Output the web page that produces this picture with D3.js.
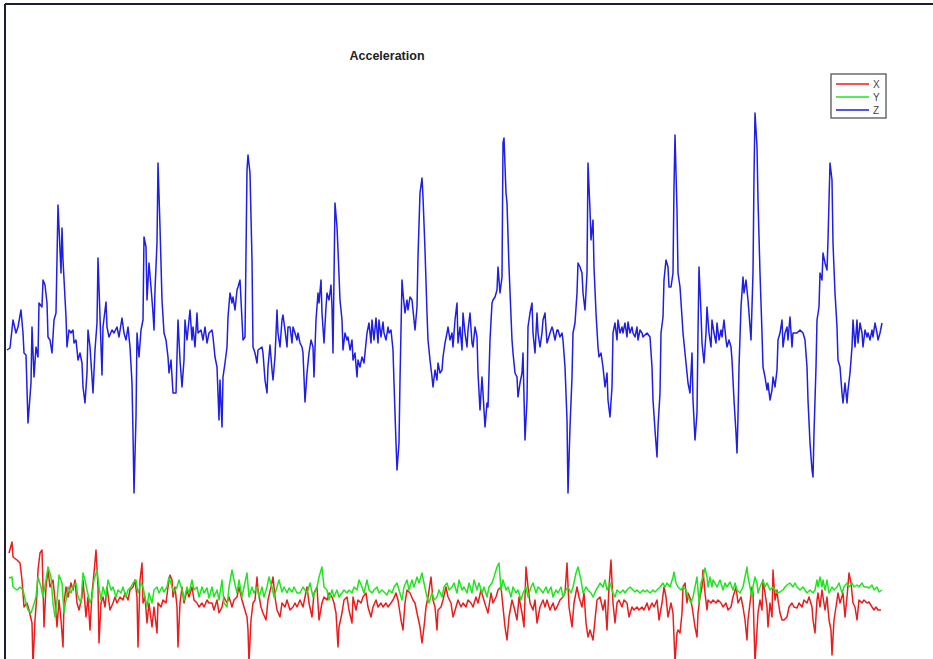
<!DOCTYPE html>
<html>
<head>
<meta charset="utf-8">
<script src="https://cdn.jsdelivr.net/npm/d3@7"></script>
<style>
  html, body { margin: 0; padding: 0; background: #fff; }
  svg { display: block; }
</style>
</head>
<body>
<svg id="chart" width="933" height="659"></svg>
<script>
// ---- data: [sample index, raw acceleration reading] ----
const seriesNames = ["X", "Y", "Z"];
const seriesColors = ["#ec1c1c", "#1ee61e", "#1e1ee6"];
const chartTitle = "Acceleration";

const accelZ = [[0,250],[3,252],[6,280],[9,267],[11,273],[14,290],[16,267],[17,247],[19,245],[21,177],[24,217],[25,273],[27,223],[29,253],[31,243],[32,297],[35,293],[36,320],[38,315],[40,297],[41,263],[43,260],[45,247],[47,280],[49,287],[51,395],[53,350],[54,327],[55,372],[56,340],[59,283],[60,253],[62,270],[64,267],[66,270],[67,257],[69,260],[71,240],[73,247],[75,237],[76,213],[78,197],[80,227],[81,270],[83,253],[85,223],[86,207],[88,250],[90,277],[91,342],[93,283],[95,225],[96,273],[99,298],[100,273],[102,263],[105,270],[107,267],[110,273],[112,263],[115,282],[117,267],[119,260],[121,273],[123,253],[125,217],[126,167],[127,107],[129,183],[130,267],[132,243],[134,270],[136,280],[137,363],[139,353],[140,300],[142,337],[144,313],[146,287],[147,270],[148,310],[150,357],[151,437],[153,373],[155,300],[157,267],[159,260],[161,243],[162,227],[164,240],[166,207],[169,207],[171,280],[173,240],[175,213],[177,240],[178,280],[180,260],[183,290],[185,260],[186,273],[188,253],[190,287],[191,267],[194,270],[196,260],[198,273],[200,257],[202,267],[205,270],[206,263],[208,243],[210,233],[212,180],[213,220],[215,173],[216,223],[218,237],[220,253],[221,283],[223,307],[225,297],[226,303],[228,290],[230,310],[231,313],[233,320],[235,280],[236,260],[238,263],[240,430],[241,445],[243,427],[245,340],[246,253],[248,247],[250,237],[251,250],[255,253],[256,247],[258,220],[260,207],[261,233],[263,255],[265,230],[266,220],[268,243],[270,290],[271,267],[273,253],[275,280],[276,285],[278,270],[280,253],[281,273],[283,273],[285,257],[286,273],[288,267],[290,260],[291,267],[293,257],[295,253],[296,247],[298,198],[300,227],[302,247],[304,260],[306,253],[307,223],[309,280],[311,307],[312,297],[314,320],[315,287],[317,257],[319,293],[320,307],[322,300],[324,315],[325,293],[326,247],[328,397],[330,373],[331,350],[333,300],[335,280],[336,250],[338,267],[340,260],[341,263],[343,250],[345,260],[346,240],[348,247],[350,223],[351,240],[353,233],[355,243],[357,237],[359,257],[360,267],[362,277],[364,257],[365,280],[367,260],[369,282],[371,257],[372,280],[374,263],[376,278],[377,267],[379,260],[381,273],[382,267],[384,270],[386,250],[387,217],[389,157],[390,130],[392,157],[393,220],[395,320],[396,307],[398,287],[400,300],[401,290],[403,303],[405,300],[406,290],[408,270],[410,293],[411,343],[413,407],[415,422],[416,403],[418,350],[420,287],[421,260],[423,240],[425,223],[426,213],[428,230],[430,220],[431,237],[433,227],[435,230],[436,243],[438,257],[440,267],[441,273],[443,260],[445,267],[446,253],[448,280],[450,297],[451,257],[453,273],[455,250],[456,287],[458,267],[460,253],[461,270],[463,287],[465,257],[466,253],[468,273],[470,263],[471,227],[473,190],[475,223],[476,207],[478,173],[480,197],[481,193],[483,260],[485,297],[486,300],[488,303],[490,310],[491,333],[493,307],[495,323],[496,457],[497,462],[499,407],[500,397],[502,333],[505,260],[506,247],[508,227],[510,223],[511,203],[513,217],[515,227],[516,247],[518,160],[520,200],[521,273],[523,287],[525,297],[526,267],[528,247],[530,287],[531,267],[533,253],[535,267],[536,280],[538,287],[540,257],[541,260],[543,267],[545,273],[546,270],[548,260],[550,270],[551,270],[553,263],[555,267],[556,260],[558,233],[560,180],[561,107],[563,173],[565,223],[566,267],[568,277],[570,307],[571,337],[573,333],[575,327],[576,307],[578,290],[580,327],[581,437],[583,390],[584,360],[586,380],[587,333],[589,287],[591,253],[592,243],[594,247],[596,233],[598,213],[600,227],[601,200],[603,183],[605,213],[606,267],[608,277],[610,260],[611,280],[613,267],[615,273],[616,267],[618,277],[620,263],[621,278],[623,267],[625,273],[626,267],[628,263],[630,273],[631,260],[633,270],[635,267],[636,263],[640,267],[643,263],[645,233],[646,200],[648,170],[650,143],[651,173],[653,207],[654,267],[656,283],[657,320],[659,340],[661,333],[662,313],[664,313],[666,327],[667,413],[668,465],[670,390],[671,327],[673,313],[675,283],[676,267],[678,247],[680,227],[681,217],[683,207],[685,247],[686,200],[688,160],[690,187],[691,267],[692,333],[694,287],[695,257],[697,237],[699,267],[700,293],[702,267],[704,253],[705,280],[707,267],[709,257],[710,277],[712,260],[714,270],[715,263],[717,280],[719,260],[720,253],[722,260],[724,253],[725,240],[727,200],[729,167],[730,147],[731,183],[732,233],[734,293],[736,323],[737,307],[739,320],[741,300],[742,287],[744,260],[746,327],[747,423],[748,487],[750,453],[751,400],[753,327],[755,267],[756,233],[758,223],[760,210],[761,217],[763,200],[765,210],[766,223],[768,213],[770,230],[771,260],[773,267],[775,280],[776,253],[778,267],[780,273],[781,260],[783,283],[785,253],[786,267],[790,267],[793,270],[796,267],[798,260],[800,233],[801,200],[803,157],[805,130],[806,123],[807,167],[809,233],[810,280],[812,293],[813,327],[815,320],[816,347],[818,337],[820,330],[821,360],[823,437],[825,420],[826,357],[828,307],[830,273],[831,240],[833,233],[835,207],[836,197],[838,217],[840,197],[841,210],[843,227],[845,253],[846,280],[848,253],[850,280],[851,257],[853,277],[855,267],[856,253],[858,270],[860,263],[861,267],[863,260],[865,270],[866,263],[868,277],[870,267],[871,260],[873,267],[875,277]];

const accelX = [[2,47],[5,58],[6,43],[10,40],[13,37],[15,20],[17,-7],[20,-3],[22,-10],[25,-23],[26,-65],[28,-20],[30,7],[31,30],[33,47],[35,50],[36,13],[37,-27],[39,13],[41,30],[43,13],[46,20],[48,0],[50,-27],[52,0],[54,-20],[56,-47],[57,-3],[59,13],[61,3],[64,17],[66,10],[68,20],[70,-3],[72,-10],[75,3],[76,20],[79,-17],[81,3],[83,-30],[85,7],[87,27],[89,50],[91,13],[92,-43],[94,-3],[96,3],[98,-7],[100,13],[103,-10],[106,-3],[108,3],[110,-3],[113,3],[116,0],[118,7],[121,0],[123,10],[126,13],[128,20],[130,3],[131,-47],[133,20],[135,37],[136,-3],[138,3],[140,-23],[142,-3],[145,-27],[147,-7],[150,-33],[151,-3],[154,-7],[156,0],[159,-3],[161,13],[163,25],[165,20],[166,3],[168,13],[170,-7],[171,-47],[173,-3],[175,13],[177,-3],[180,10],[182,3],[185,13],[187,0],[190,-3],[192,-7],[195,-3],[197,-7],[200,0],[202,-3],[205,-3],[207,-10],[210,0],[212,-13],[215,-7],[217,3],[220,-3],[222,3],[225,-7],[227,0],[230,3],[232,13],[235,0],[237,-7],[240,-17],[241,-30],[242,-62],[244,-20],[246,-3],[248,0],[250,23],[251,10],[254,-7],[256,-13],[259,-20],[261,0],[264,13],[266,23],[268,3],[270,-10],[273,-17],[275,-3],[278,-7],[280,0],[283,-10],[286,-7],[288,-3],[290,-7],[293,0],[296,-7],[300,13],[302,-3],[305,-17],[307,7],[310,13],[312,-20],[315,-3],[317,3],[320,0],[322,7],[325,3],[327,-3],[329,-13],[331,-47],[332,-27],[335,-13],[337,0],[340,3],[342,-10],[345,-23],[346,3],[349,-10],[351,0],[354,-3],[356,3],[359,7],[361,-7],[364,-17],[366,-7],[369,0],[371,-7],[374,-3],[376,-7],[379,-3],[381,-7],[384,-3],[386,0],[389,7],[391,0],[394,-20],[396,-30],[398,-3],[400,10],[403,7],[406,0],[408,-3],[410,-13],[413,-27],[415,-43],[417,-27],[419,-7],[421,3],[424,23],[426,0],[428,-7],[430,-30],[431,-10],[434,-7],[436,0],[439,13],[441,3],[444,-3],[446,-17],[449,-7],[451,0],[454,-7],[456,-3],[459,-7],[461,0],[464,-3],[466,-7],[469,3],[471,-3],[474,10],[476,3],[479,-7],[481,-13],[484,7],[486,-3],[489,3],[491,10],[494,13],[496,-7],[498,-27],[500,-40],[502,-17],[505,0],[507,-7],[510,-20],[512,3],[515,-13],[517,-27],[519,33],[521,13],[523,-3],[526,-10],[528,0],[530,-23],[533,-7],[536,0],[538,-7],[540,0],[543,-10],[546,-3],[548,-10],[550,-7],[553,0],[556,3],[558,7],[560,37],[562,-7],[565,-27],[567,-3],[570,13],[572,3],[575,-7],[577,7],[579,-23],[581,-37],[583,-30],[586,-40],[588,-20],[590,0],[593,3],[596,-10],[598,0],[600,-30],[602,13],[604,40],[606,-3],[608,-23],[610,-3],[612,0],[615,-7],[617,0],[620,-3],[622,-17],[625,-7],[627,-10],[630,-7],[632,-10],[635,-7],[637,-10],[640,-3],[642,-10],[645,-3],[647,-7],[650,0],[652,-20],[655,-3],[657,13],[659,3],[661,-17],[664,-3],[666,-13],[668,-62],[670,-33],[671,-30],[673,-33],[675,-13],[676,13],[678,17],[680,-3],[681,7],[684,0],[686,-13],[688,-27],[690,-37],[691,-13],[693,3],[695,13],[696,30],[698,7],[700,-10],[701,0],[704,-3],[706,0],[709,-3],[711,0],[714,-3],[716,-7],[719,-3],[721,-10],[724,-7],[726,3],[729,13],[731,-3],[734,3],[736,-7],[738,-20],[740,-40],[741,-20],[743,-3],[745,13],[746,7],[748,-62],[750,-30],[751,-13],[753,0],[755,-10],[756,20],[758,7],[760,-7],[761,-27],[763,-3],[765,-17],[766,30],[768,0],[770,10],[771,0],[773,-13],[775,-20],[777,-20],[780,-17],[782,-7],[785,-3],[787,-7],[790,-8],[792,-3],[795,-7],[797,0],[800,-3],[802,3],[805,-7],[806,-20],[808,-33],[810,0],[811,7],[813,-7],[815,10],[816,3],[818,-10],[820,3],[822,-20],[824,-30],[825,-55],[827,-20],[829,-7],[831,7],[833,-3],[836,7],[838,-17],[840,3],[842,27],[844,17],[846,-3],[848,-7],[850,-20],[852,0],[855,-3],[857,0],[860,-3],[862,-2],[865,-7],[867,-10],[869,-7],[871,-10],[874,-10]];

const accelY = [[2,22],[5,23],[6,13],[10,10],[13,13],[16,10],[19,-3],[21,-10],[24,-13],[26,-7],[29,3],[31,23],[34,13],[36,3],[39,20],[41,33],[44,23],[46,-3],[48,-17],[50,0],[52,25],[55,17],[57,-13],[59,0],[61,13],[64,7],[66,13],[69,17],[71,3],[74,-3],[76,27],[78,20],[80,10],[83,-3],[85,3],[87,20],[90,30],[92,13],[94,0],[96,13],[99,3],[101,20],[104,10],[106,13],[109,3],[111,10],[114,7],[116,13],[119,3],[121,10],[124,13],[126,17],[129,20],[131,7],[134,17],[136,13],[140,-7],[142,7],[145,-3],[147,10],[150,13],[152,7],[155,13],[157,8],[160,13],[162,23],[165,13],[167,8],[170,13],[172,20],[175,10],[177,0],[180,13],[182,7],[185,20],[187,10],[190,13],[192,3],[195,13],[197,7],[200,12],[202,2],[205,13],[207,3],[210,10],[212,0],[215,20],[217,-3],[220,-7],[222,13],[225,30],[227,20],[230,7],[232,20],[235,3],[237,13],[240,27],[242,3],[245,13],[247,7],[250,13],[252,3],[255,13],[257,3],[260,13],[262,23],[265,13],[267,3],[270,13],[272,20],[275,8],[277,13],[280,7],[282,12],[285,8],[287,13],[290,7],[293,7],[296,13],[300,7],[303,17],[306,3],[310,13],[312,23],[315,33],[317,13],[320,10],[322,0],[325,10],[327,3],[330,10],[332,3],[335,7],[337,10],[340,7],[342,10],[345,7],[347,13],[350,10],[352,20],[355,13],[357,7],[360,20],[362,10],[365,7],[367,10],[370,13],[372,7],[375,10],[377,8],[380,5],[382,10],[385,7],[387,13],[390,17],[392,10],[395,0],[397,13],[400,20],[402,10],[405,20],[407,13],[410,23],[412,17],[415,27],[417,17],[420,3],[422,-3],[425,7],[427,0],[430,3],[432,10],[435,3],[437,13],[440,17],[442,10],[445,13],[447,17],[450,7],[452,20],[455,10],[457,13],[460,7],[462,17],[465,7],[467,20],[470,10],[472,17],[475,7],[477,13],[480,3],[482,13],[485,17],[487,23],[490,33],[492,37],[494,10],[496,20],[499,10],[501,13],[504,3],[506,13],[509,7],[511,10],[514,0],[516,7],[519,13],[521,3],[524,13],[526,17],[529,7],[531,13],[534,10],[536,7],[539,13],[541,7],[544,13],[546,3],[549,10],[551,7],[554,13],[556,3],[559,10],[561,13],[564,7],[566,13],[569,27],[571,33],[574,20],[576,7],[579,13],[581,10],[584,7],[586,3],[589,10],[591,13],[593,17],[596,13],[598,20],[600,10],[603,17],[606,7],[608,3],[610,10],[613,7],[616,10],[618,7],[620,10],[623,13],[626,10],[628,8],[630,10],[633,7],[636,10],[638,8],[640,10],[643,7],[646,10],[648,8],[650,10],[653,13],[656,17],[658,13],[660,17],[663,13],[666,23],[667,28],[669,17],[671,13],[674,10],[676,13],[679,10],[681,3],[684,-3],[686,3],[688,13],[690,23],[692,-3],[694,17],[696,23],[698,32],[700,23],[701,13],[703,23],[705,13],[706,20],[708,17],[710,13],[713,20],[716,10],[718,17],[720,13],[723,18],[726,10],[728,17],[730,10],[733,7],[736,13],[738,23],[740,33],[741,23],[743,13],[745,3],[746,13],[748,23],[750,17],[751,7],[753,13],[756,20],[758,13],[760,17],[763,10],[766,13],[768,10],[770,7],[773,8],[776,10],[778,13],[780,15],[783,17],[786,13],[788,17],[790,13],[793,10],[796,13],[798,10],[800,7],[803,10],[806,7],[808,10],[810,20],[811,13],[813,23],[815,13],[816,20],[818,10],[820,20],[822,7],[825,13],[827,10],[830,13],[832,17],[835,7],[837,13],[840,17],[842,13],[845,17],[847,13],[850,15],[852,13],[855,17],[857,13],[860,13],[862,12],[865,15],[867,10],[870,13],[872,8],[875,10]];

const allSeries = [accelX, accelY, accelZ];

// ---- drawing ----
const W = 933, H = 659;
const svg = d3.select("#chart");

const x = d3.scaleLinear().domain([0, 876]).range([7, 883]);
const y = d3.scaleLinear().domain([-100, 600]).range([700, 0]);

svg.append("defs").append("clipPath").attr("id", "plotclip")
  .append("rect").attr("x", 6).attr("y", 5).attr("width", W - 6).attr("height", H - 5);

const line = d3.line().x(d => x(d[0])).y(d => y(d[1]));

const g = svg.append("g").attr("clip-path", "url(#plotclip)");
g.selectAll("path.series")
  .data(allSeries)
  .join("path")
  .attr("class", "series")
  .attr("d", line)
  .attr("fill", "none")
  .attr("stroke", (d, i) => seriesColors[i])
  .attr("stroke-width", 1.5)
  .attr("stroke-linejoin", "round");

// figure frame (top and left edges visible)
svg.append("line").attr("x1", 5).attr("x2", W).attr("y1", 4).attr("y2", 4)
  .attr("stroke", "#1a2030").attr("stroke-width", 2);
svg.append("line").attr("x1", 5).attr("x2", 5).attr("y1", 4).attr("y2", H)
  .attr("stroke", "#1a2030").attr("stroke-width", 2);

// title
svg.append("text")
  .attr("x", 387).attr("y", 60)
  .attr("text-anchor", "middle")
  .attr("font-family", "Liberation Sans, Arial, Helvetica, sans-serif")
  .attr("font-weight", "bold")
  .attr("font-size", 12.5)
  .attr("fill", "#222")
  .text(chartTitle);

// legend
const lg = svg.append("g").attr("transform", "translate(831,74)");
lg.append("rect").attr("x", 0).attr("y", 0).attr("width", 55).attr("height", 44)
  .attr("fill", "#fff").attr("stroke", "#555").attr("stroke-width", 1.3);
const items = lg.selectAll("g.item").data(seriesNames).join("g")
  .attr("class", "item")
  .attr("transform", (d, i) => `translate(0,${10 + i * 13})`);
items.append("line").attr("x1", 5).attr("x2", 38).attr("y1", 0).attr("y2", 0)
  .attr("stroke", (d, i) => seriesColors[i]).attr("stroke-width", 1.5);
items.append("text").attr("x", 42).attr("y", 0).attr("dy", "0.35em")
  .attr("font-family", "Liberation Sans, Arial, Helvetica, sans-serif")
  .attr("font-size", 10).attr("fill", "#444")
  .text(d => d);
</script>
</body>
</html>
